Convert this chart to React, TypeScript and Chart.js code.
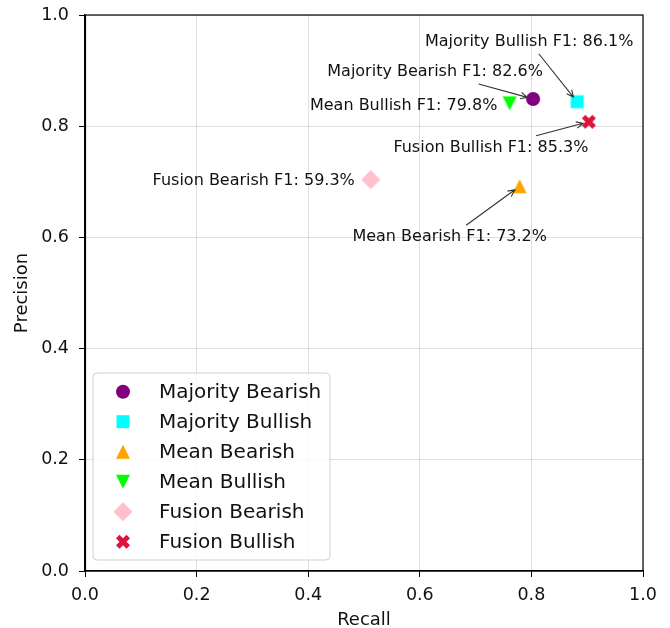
import React, { useEffect, useRef } from 'react';
import { Chart, registerables } from 'chart.js';

Chart.register(...registerables);

// ---- data ----
const seriesNames = [
  'Majority Bearish',
  'Majority Bullish',
  'Mean Bearish',
  'Mean Bullish',
  'Fusion Bearish',
  'Fusion Bullish',
];
const recallValues = [0.803, 0.882, 0.779, 0.761, 0.512, 0.903];
const precisionValues = [0.849, 0.844, 0.692, 0.841, 0.704, 0.808];
const f1Labels = ['82.6%', '86.1%', '73.2%', '79.8%', '59.3%', '85.3%'];
const tickValues = [0, 0.2, 0.4, 0.6, 0.8, 1.0];
const xAxisTitle = 'Recall';
const yAxisTitle = 'Precision';

// ---- styles / layout ----
const markerColors = ['#800080', '#00ffff', '#ffa500', '#00ff00', '#ffc0cb', '#dc143c'];
const markerShapes = ['circle', 'square', 'triUp', 'triDown', 'diamond', 'xfilled'];
const labelOffsets: [number, number][] = [
  [-98, -27],
  [-48, -60],
  [-70, 51],
  [-106, 2],
  [-117, 1],
  [-98, 26],
];
const labelArrows = [true, true, true, false, false, true];

const FONT = '"DejaVu Sans", sans-serif';

function traceMarker(ctx: CanvasRenderingContext2D, shape: string) {
  ctx.beginPath();
  switch (shape) {
    case 'circle':
      ctx.arc(0, 0, 7, 0, Math.PI * 2);
      break;
    case 'square':
      ctx.rect(-6.5, -6.5, 13, 13);
      break;
    case 'triUp':
      ctx.moveTo(0, -7);
      ctx.lineTo(7, 7);
      ctx.lineTo(-7, 7);
      ctx.closePath();
      break;
    case 'triDown':
      ctx.moveTo(0, 7);
      ctx.lineTo(7, -7);
      ctx.lineTo(-7, -7);
      ctx.closePath();
      break;
    case 'diamond':
      ctx.moveTo(0, -9.5);
      ctx.lineTo(9.5, 0);
      ctx.lineTo(0, 9.5);
      ctx.lineTo(-9.5, 0);
      ctx.closePath();
      break;
    case 'xfilled': {
      const pts = [
        [-1, -2], [0, -1], [1, -2], [2, -1], [1, 0], [2, 1],
        [1, 2], [0, 1], [-1, 2], [-2, 1], [-1, 0], [-2, -1],
      ];
      pts.forEach(([a, b], i) => {
        const px = a * 3.5;
        const py = b * 3.5;
        if (i === 0) ctx.moveTo(px, py);
        else ctx.lineTo(px, py);
      });
      ctx.closePath();
      break;
    }
  }
}

function drawMarker(ctx: CanvasRenderingContext2D, shape: string, x: number, y: number, color: string) {
  ctx.save();
  ctx.translate(x, y);
  ctx.fillStyle = color;
  traceMarker(ctx, shape);
  ctx.fill();
  ctx.restore();
}

function makeMarkerCanvas(shape: string, color: string) {
  const c = document.createElement('canvas');
  c.width = 24;
  c.height = 24;
  const ctx = c.getContext('2d')!;
  drawMarker(ctx, shape, 12, 12, color);
  return c;
}

const overlayPlugin = {
  id: 'overlay',
  afterDraw(chart: any) {
    const ctx: CanvasRenderingContext2D = chart.ctx;
    const { left, right, top, bottom } = chart.chartArea;
    const xs = chart.scales.x;
    const ys = chart.scales.y;

    // frame (spines)
    ctx.save();
    ctx.strokeStyle = '#000';
    ctx.lineWidth = 1.2;
    ctx.strokeRect(left + 0.5, top, right - left - 0.5, bottom - top);
    ctx.restore();

    // annotations
    ctx.save();
    ctx.font = `16px ${FONT}`;
    ctx.fillStyle = '#111';
    ctx.textAlign = 'center';
    ctx.textBaseline = 'middle';
    seriesNames.forEach((name, i) => {
      const px = xs.getPixelForValue(recallValues[i]);
      const py = ys.getPixelForValue(precisionValues[i]);
      const tx = px + labelOffsets[i][0];
      const ty = py + labelOffsets[i][1];
      const text = `${name} F1: ${f1Labels[i]}`;
      const w = ctx.measureText(text).width;
      ctx.fillText(text, tx, ty);
      if (labelArrows[i]) {
        const dx = px - tx;
        const dy = py - ty;
        const hw = w / 2 + 4;
        const hh = 12;
        const t = Math.min(dx !== 0 ? hw / Math.abs(dx) : Infinity, dy !== 0 ? hh / Math.abs(dy) : Infinity);
        const sx = tx + dx * t;
        const sy = ty + dy * t;
        const len = Math.hypot(dx, dy);
        const ex = px - (dx / len) * 6;
        const ey = py - (dy / len) * 6;
        ctx.strokeStyle = '#333';
        ctx.lineWidth = 1.1;
        ctx.beginPath();
        ctx.moveTo(sx, sy);
        ctx.lineTo(ex, ey);
        const ang = Math.atan2(ey - sy, ex - sx);
        const hl = 7.5;
        const ha = 0.45;
        ctx.moveTo(ex - hl * Math.cos(ang - ha), ey - hl * Math.sin(ang - ha));
        ctx.lineTo(ex, ey);
        ctx.lineTo(ex - hl * Math.cos(ang + ha), ey - hl * Math.sin(ang + ha));
        ctx.stroke();
      }
    });
    ctx.restore();

    // legend
    ctx.save();
    const boxL = left + 8;
    const boxB = bottom - 11;
    const boxW = 237;
    const boxH = 187;
    const boxT = boxB - boxH;
    ctx.beginPath();
    const r = 4;
    ctx.moveTo(boxL + r, boxT);
    ctx.arcTo(boxL + boxW, boxT, boxL + boxW, boxB, r);
    ctx.arcTo(boxL + boxW, boxB, boxL, boxB, r);
    ctx.arcTo(boxL, boxB, boxL, boxT, r);
    ctx.arcTo(boxL, boxT, boxL + boxW, boxT, r);
    ctx.closePath();
    ctx.fillStyle = 'rgba(255,255,255,0.8)';
    ctx.fill();
    ctx.strokeStyle = '#d0d0d0';
    ctx.lineWidth = 1;
    ctx.stroke();
    ctx.font = `20px ${FONT}`;
    ctx.fillStyle = '#111';
    ctx.textAlign = 'left';
    ctx.textBaseline = 'middle';
    seriesNames.forEach((name, i) => {
      const y = boxT + 18.7 + i * 30;
      drawMarker(ctx, markerShapes[i], boxL + 30, y, markerColors[i]);
      ctx.fillText(name, boxL + 66, y + 1);
    });
    ctx.restore();
  },
};

export default function App() {
  const canvasRef = useRef<HTMLCanvasElement | null>(null);

  useEffect(() => {
    document.body.style.margin = '0';
    const canvas = canvasRef.current;
    if (!canvas) return;

    const datasets = seriesNames.map((name, i) => ({
      label: name,
      data: [{ x: recallValues[i], y: precisionValues[i] }],
      pointStyle: makeMarkerCanvas(markerShapes[i], markerColors[i]) as any,
      backgroundColor: markerColors[i],
      borderColor: markerColors[i],
      pointRadius: 8,
    }));

    const gridColor = 'rgba(176,176,176,0.4)';
    const tickCb = (v: any) => Number(v).toFixed(1);

    const chart = new Chart(canvas, {
      type: 'scatter',
      data: { datasets },
      options: {
        responsive: false,
        animation: false,
        layout: { padding: { left: 0, right: 27, top: 15, bottom: 0 } },
        plugins: {
          legend: { display: false },
          tooltip: { enabled: false },
        },
        scales: {
          x: {
            type: 'linear',
            min: 0,
            max: 1,
            afterFit: (s: any) => {
              s.height = 57;
              s.paddingLeft = 0;
              s.paddingRight = 0;
            },
            afterBuildTicks: (s: any) => {
              s.ticks = tickValues.map((v) => ({ value: v }));
            },
            ticks: {
              callback: tickCb,
              color: '#111',
              font: { family: FONT, size: 17.5 },
              padding: 8,
              maxRotation: 0,
            },
            grid: {
              color: gridColor,
              tickColor: '#000',
              tickLength: 6,
              drawTicks: true,
            },
            border: { display: true, color: '#000', width: 1.2 },
            title: {
              display: true,
              text: xAxisTitle,
              color: '#111',
              font: { family: FONT, size: 18, lineHeight: 1 },
              padding: { top: 0, bottom: -1.5 },
            },
          },
          y: {
            type: 'linear',
            min: 0,
            max: 1,
            afterFit: (s: any) => {
              s.width = 85;
              s.paddingTop = 0;
              s.paddingBottom = 0;
            },
            afterBuildTicks: (s: any) => {
              s.ticks = tickValues.map((v) => ({ value: v }));
            },
            ticks: {
              callback: tickCb,
              color: '#111',
              font: { family: FONT, size: 17.5 },
              padding: 10,
            },
            grid: {
              color: gridColor,
              tickColor: '#000',
              tickLength: 6,
              drawTicks: true,
            },
            border: { display: true, color: '#000', width: 1.2 },
            title: {
              display: true,
              text: yAxisTitle,
              color: '#111',
              font: { family: FONT, size: 18 },
              padding: { top: 12, bottom: 0 },
            },
          },
        },
      },
      plugins: [overlayPlugin],
    });

    return () => {
      chart.destroy();
    };
  }, []);

  return (
    <div style={{ width: 670, height: 628, background: '#fff' }}>
      <canvas ref={canvasRef} width={670} height={628} style={{ display: 'block' }} />
    </div>
  );
}
